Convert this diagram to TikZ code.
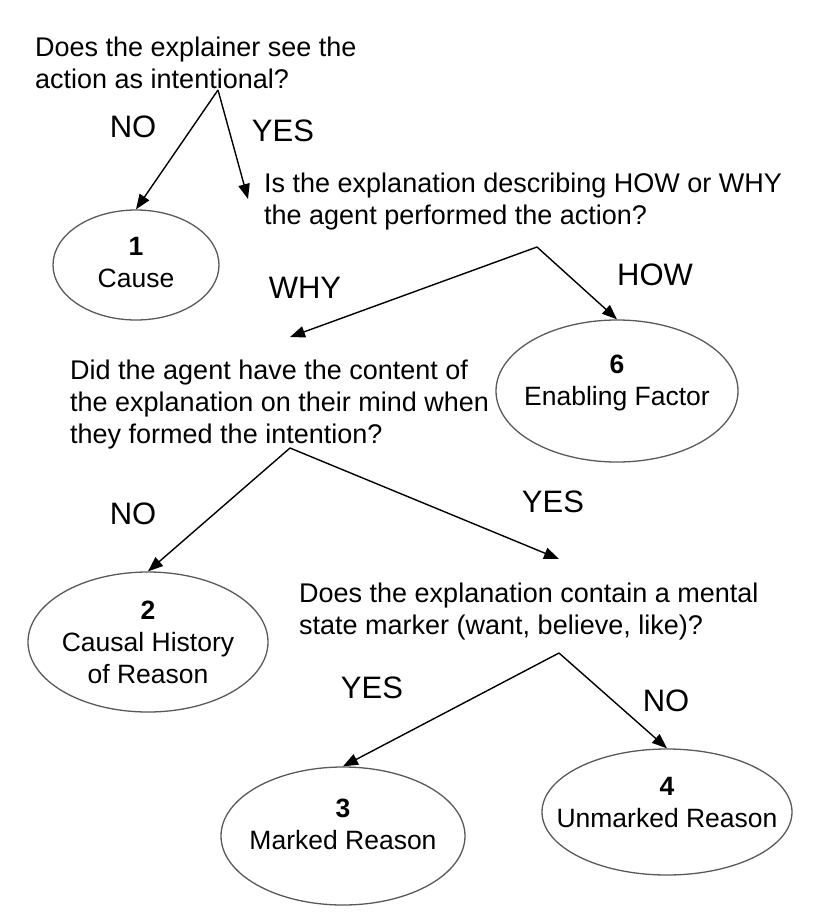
\documentclass[tikz,border=0pt]{standalone}
\usepackage{fontspec}
\setsansfont{Liberation Sans}
\RequirePackage{xcolor}
\tikzset{every picture/.style={/utils/exec={\sffamily}}}
\usetikzlibrary{calc}
\usetikzlibrary{positioning}
\usetikzlibrary{shapes.geometric, arrows.meta}

\tikzset{
  question/.style={anchor=north west, inner sep=0pt, align=left, font=\fontsize{27}{32}\selectfont},
  answer/.style={inner sep=0pt, font=\fontsize{31}{36}\selectfont},
  outcome/.style={ellipse, draw=black!65, line width=1.3pt, inner sep=-30pt, align=center, font=\fontsize{26.5}{32}\selectfont},
  branch/.style={-{Triangle[length=15pt,width=11.5pt]}, line width=1.4pt},
}

\begin{document}
\begin{tikzpicture}[x=1pt, y=-1pt]
  \useasboundingbox (0,0) rectangle (820,916);

  % questions
  \node [question] (intentional) at (35,37) {Does the explainer see the\\action as intentional?};
  \node [question] (howwhy) at (264,173) {Is the explanation describing HOW or WHY\\the agent performed the action?};
  \node [question] (onmind) at (70,360) {Did the agent have the content of\\the explanation on their mind when\\they formed the intention?};
  \node [question] (marker) at (299,583) {Does the explanation contain a mental\\state marker (want, believe, like)?};

  % outcomes
  \node [outcome, minimum width=166pt, minimum height=110pt, text depth=6pt] (cause) at (136,265) {\textbf{1}\\Cause};
  \node [outcome, minimum width=242pt, minimum height=142pt, text depth=22pt] (enabling) at (617,391) {\textbf{6}\\Enabling Factor};
  \node [outcome, minimum width=240pt, minimum height=140pt] (history) at (148,642) {\textbf{2}\\Causal History\\of Reason};
  \node [outcome, minimum width=244pt, minimum height=138pt, text depth=24pt] (marked) at (343,836) {\textbf{3}\\Marked Reason};
  \node [outcome, minimum width=250pt, minimum height=126pt, text depth=20pt] (unmarked) at (667,812) {\textbf{4}\\Unmarked Reason};

  % split points and free ends
  \coordinate (intentional split) at (218,90);
  \coordinate (howwhy split) at (537,247);
  \coordinate (onmind split) at (290,448);
  \coordinate (marker split) at (559,653);
  \coordinate (howwhy in) at (248,199);
  \coordinate (onmind in) at (290,337);
  \coordinate (marker in) at (559,559);

  \draw [branch] (intentional split) -- (cause.north);
  \draw [branch] (intentional split) -- (howwhy in);
  \draw [branch] (howwhy split) -- (onmind in);
  \draw [branch] (howwhy split) -- (enabling.north);
  \draw [branch] (onmind split) -- (history.north);
  \draw [branch] (onmind split) -- (marker in);
  \draw [branch] (marker split) -- (marked.north);
  \draw [branch] (marker split) -- (unmarked.north);

  % answers
  \node [answer] (intentional no) at (133,127) {NO};
  \node [answer] (intentional yes) at (283,131) {YES};
  \node [answer] (howwhy why) at (305,288) {WHY};
  \node [answer] (howwhy how) at (655,275) {HOW};
  \node [answer] (onmind no) at (133,514) {NO};
  \node [answer] (onmind yes) at (553,502) {YES};
  \node [answer] (marker yes) at (372,688) {YES};
  \node [answer] (marker no) at (666,701) {NO};
\end{tikzpicture}
\end{document}
